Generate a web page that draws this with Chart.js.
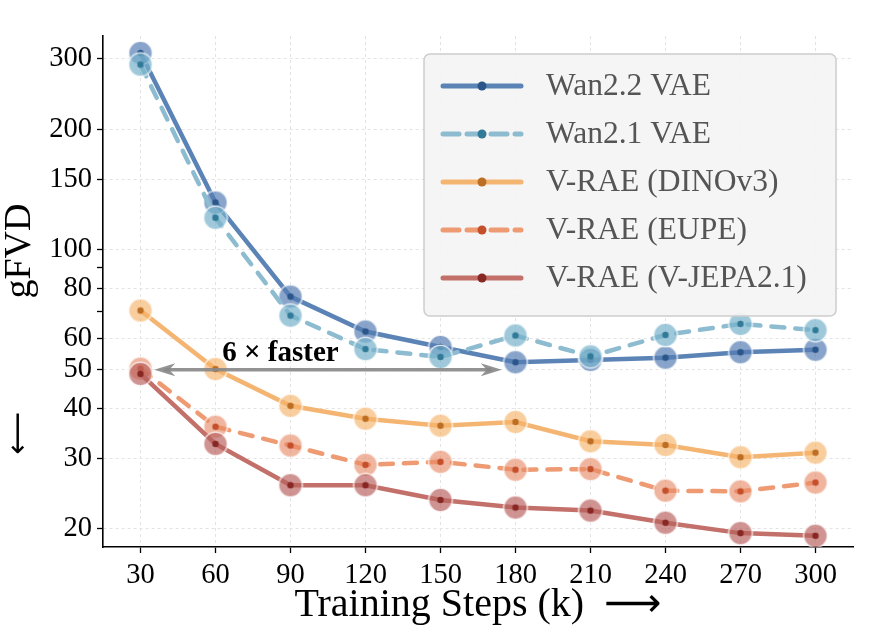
<!DOCTYPE html>
<html>
<head>
<meta charset="utf-8">
<script src="https://cdn.jsdelivr.net/npm/chart.js@4.4.1/dist/chart.umd.min.js"></script>
<style>
  html, body { margin: 0; padding: 0; background: #fff; }
  #wrap { width: 870px; height: 636px; position: relative; }
</style>
</head>
<body>
<div id="wrap"><canvas id="chart"></canvas></div>
<script>
// training steps (k) on the x axis
const steps = [30, 60, 90, 120, 150, 180, 210, 240, 270, 300];

// gFVD values
const wan22Vae = [310, 131, 76.2, 62.3, 57.0, 52.2, 52.9, 53.6, 55.3, 56.1];
const wan21Vae = [290, 120, 68.3, 56.3, 53.8, 60.9, 54.0, 61.1, 65.1, 62.8];
const vraeDino = [70.3, 50.2, 40.6, 37.7, 36.2, 37.0, 33.1, 32.4, 30.2, 31.0];
const vraeEupe = [50.3, 36.0, 32.3, 28.9, 29.4, 28.1, 28.2, 24.9, 24.8, 26.1];
const vraeVjepa = [48.8, 32.6, 25.7, 25.7, 23.6, 22.6, 22.2, 20.7, 19.5, 19.2];

const yTicks = [20, 30, 40, 50, 60, 70, 80, 90, 100, 150, 200, 300];
const yMinor = [70, 90];

const serif = '"Liberation Serif", "Times New Roman", "DejaVu Serif", serif';

const series = [
  { label: 'Wan2.2 VAE', data: wan22Vae, line: '#5b83b6', fill: 'rgba(86,125,180,0.7)', dot: '#2a568a', dash: [] },
  { label: 'Wan2.1 VAE', data: wan21Vae, line: '#8dbcd0', fill: 'rgba(118,178,204,0.7)', dot: '#327b98', dash: [13, 11] },
  { label: 'V-RAE (DINOv3)', data: vraeDino, line: '#f5b572', fill: 'rgba(245,178,105,0.64)', dot: '#bd6e25', dash: [] },
  { label: 'V-RAE (EUPE)', data: vraeEupe, line: '#ee9a72', fill: 'rgba(232,140,104,0.64)', dot: '#c44f2b', dash: [13, 11] },
  { label: 'V-RAE (V-JEPA2.1)', data: vraeVjepa, line: '#c3706a', fill: 'rgba(184,98,94,0.68)', dot: '#882824', dash: [] },
];

// big translucent disc with a white rim and a small dark centre dot
function marker(fill, dot) {
  const c = document.createElement('canvas');
  c.width = 28;
  c.height = 28;
  const g = c.getContext('2d');
  g.beginPath();
  g.arc(14, 14, 11.8, 0, Math.PI * 2);
  g.fillStyle = fill;
  g.fill();
  g.lineWidth = 1.5;
  g.strokeStyle = 'rgba(255,255,255,0.75)';
  g.stroke();
  g.beginPath();
  g.arc(14, 14, 3.2, 0, Math.PI * 2);
  g.fillStyle = dot;
  g.fill();
  return c;
}

const datasets = series.map((s, i) => ({
  label: s.label,
  data: steps.map((x, j) => ({ x: x, y: s.data[j] })),
  borderColor: s.line,
  borderWidth: 4.5,
  borderDash: s.dash,
  borderCapStyle: s.dash.length ? 'round' : 'butt',
  pointStyle: marker(s.fill, s.dot),
  pointRadius: 12,
  pointHoverRadius: 12,
  tension: 0,
  fill: false,
  order: series.length - i,
}));

function stealthHead(ctx, tipX, y, dir) {
  const len = 21, half = 6.5, notch = 6;
  ctx.beginPath();
  ctx.moveTo(tipX, y);
  ctx.lineTo(tipX + dir * len, y - half);
  ctx.lineTo(tipX + dir * (len - notch), y);
  ctx.lineTo(tipX + dir * len, y + half);
  ctx.closePath();
  ctx.fill();
}

const overlay = {
  id: 'overlay',
  afterDatasetsDraw(chart) {
    const { ctx, scales: { x, y } } = chart;
    // "6 x faster" double arrow at gFVD = 50
    const yy = y.getPixelForValue(50);
    const xl = x.getPixelForValue(35.5);
    const xr = x.getPixelForValue(174.5);
    ctx.save();
    ctx.strokeStyle = 'rgba(135,135,135,0.9)';
    ctx.fillStyle = 'rgba(135,135,135,0.9)';
    ctx.lineWidth = 3.5;
    ctx.beginPath();
    ctx.moveTo(xl + 10, yy);
    ctx.lineTo(xr - 10, yy);
    ctx.stroke();
    stealthHead(ctx, xl, yy, 1);
    stealthHead(ctx, xr, yy, -1);
    ctx.fillStyle = '#000';
    ctx.font = 'bold 29px ' + serif;
    ctx.textAlign = 'center';
    ctx.textBaseline = 'alphabetic';
    ctx.fillText('6 \u00d7 faster', x.getPixelForValue(86), yy - 9);
    ctx.restore();
  },
  afterDraw(chart) {
    const { ctx, chartArea } = chart;
    ctx.save();
    // legend box
    const bx = chartArea.right - 429, by = chartArea.top + 18, bw = 412, bh = 262;
    ctx.beginPath();
    ctx.roundRect(bx, by, bw, bh, 6);
    ctx.fillStyle = 'rgba(244,244,244,0.92)';
    ctx.fill();
    ctx.lineWidth = 1.5;
    ctx.strokeStyle = '#cdcdcd';
    ctx.stroke();
    series.forEach((s, i) => {
      const cy = by + 32 + i * 48;
      ctx.strokeStyle = s.line;
      ctx.lineWidth = 5;
      ctx.setLineDash(s.dash.length ? [16, 8] : []);
      ctx.lineCap = 'round';
      ctx.beginPath();
      ctx.moveTo(bx + 19, cy);
      ctx.lineTo(bx + 97, cy);
      ctx.stroke();
      ctx.setLineDash([]);
      ctx.beginPath();
      ctx.arc(bx + 58, cy, 4.5, 0, Math.PI * 2);
      ctx.fillStyle = s.dot;
      ctx.fill();
      ctx.fillStyle = '#555';
      ctx.font = '31.5px ' + serif;
      ctx.textAlign = 'left';
      ctx.textBaseline = 'middle';
      ctx.fillText(s.label, bx + 122, cy + 1);
    });
    // y axis title: "gFVD" with a long down arrow below it
    ctx.fillStyle = '#000';
    ctx.translate(20, 251);
    ctx.rotate(-Math.PI / 2);
    ctx.font = '38px ' + serif;
    ctx.textAlign = 'center';
    ctx.textBaseline = 'middle';
    ctx.fillText('gFVD', 0, 0);
    ctx.restore();
    ctx.save();
    ctx.fillStyle = '#000';
    ctx.font = '30px "DejaVu Sans", sans-serif';
    ctx.textAlign = 'center';
    ctx.textBaseline = 'middle';
    ctx.translate(19, 433);
    ctx.rotate(-Math.PI / 2);
    ctx.fillText('\u27f5', 0, 0);
    ctx.restore();
  },
};

new Chart(document.getElementById('chart'), {
  type: 'line',
  data: { datasets: datasets },
  plugins: [overlay],
  options: {
    responsive: true,
    maintainAspectRatio: false,
    animation: false,
    layout: { padding: { top: 36, right: 17, left: 0, bottom: 0 } },
    plugins: {
      legend: { display: false },
      tooltip: { enabled: false },
    },
    scales: {
      x: {
        type: 'linear',
        min: 15,
        max: 315,
        afterBuildTicks: (scale) => {
          scale.ticks = steps.map((v) => ({ value: v }));
        },
        afterFit: (scale) => {
          scale.height = 89;
        },
        ticks: {
          color: '#000',
          font: { family: serif, size: 28.5 },
          padding: 5,
          maxRotation: 0,
        },
        grid: {
          color: '#e3e3e3',
          lineWidth: 1,
          tickColor: '#000',
          tickLength: 6,
          tickWidth: 1.3,
        },
        border: { color: '#000', width: 1.6, dash: [3, 3] },
        title: {
          display: true,
          text: 'Training Steps (k)  \u27f6',
          color: '#000',
          font: { family: '"Liberation Serif", "DejaVu Sans", serif', size: 40 },
          padding: { top: 0, bottom: 7 },
        },
      },
      y: {
        type: 'logarithmic',
        min: 18,
        max: 342,
        afterBuildTicks: (scale) => {
          scale.ticks = yTicks.map((v) => ({ value: v }));
        },
        afterFit: (scale) => {
          scale.width = 103;
        },
        ticks: {
          color: '#000',
          font: { family: serif, size: 28.5 },
          padding: 5,
          callback: (v) => (yMinor.includes(v) ? '' : String(v)),
        },
        grid: {
          color: (c) => (c.tick && yMinor.includes(c.tick.value) ? 'rgba(0,0,0,0)' : '#e3e3e3'),
          lineWidth: 1,
          tickColor: '#000',
          tickLength: 6,
          tickWidth: 1.3,
        },
        border: { color: '#000', width: 1.6, dash: [3, 3] },
      },
    },
  },
});
</script>
</body>
</html>
